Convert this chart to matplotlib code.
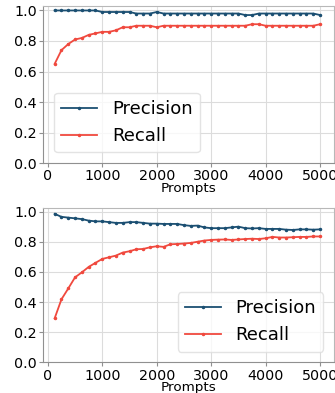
import numpy as np
import matplotlib
matplotlib.use('Agg')
import matplotlib.pyplot as plt

# x: number of prompts, every 125 up to 5000
prompts = list(range(125, 5001, 125))

# upper panel
precision_a = [1.00, 1.00, 1.00, 1.00, 1.00, 1.00, 1.00, 0.99, 0.99, 0.99,
               0.99, 0.99, 0.98, 0.98, 0.98, 0.99, 0.98, 0.98, 0.98, 0.98,
               0.98, 0.98, 0.98, 0.98, 0.98, 0.98, 0.98, 0.98, 0.97, 0.97,
               0.98, 0.98, 0.98, 0.98, 0.98, 0.98, 0.98, 0.98, 0.98, 0.97]
recall_a = [0.65, 0.74, 0.78, 0.81, 0.82, 0.84, 0.85, 0.86, 0.86, 0.87,
            0.89, 0.89, 0.90, 0.90, 0.90, 0.89, 0.90, 0.90, 0.90, 0.90,
            0.90, 0.90, 0.90, 0.90, 0.90, 0.90, 0.90, 0.90, 0.90, 0.91,
            0.91, 0.90, 0.90, 0.90, 0.90, 0.90, 0.90, 0.90, 0.90, 0.91]

# lower panel
precision_b = [0.985, 0.965, 0.960, 0.955, 0.950, 0.940, 0.935, 0.935, 0.930, 0.925,
               0.925, 0.930, 0.930, 0.925, 0.920, 0.920, 0.918, 0.918, 0.918, 0.910,
               0.905, 0.907, 0.895, 0.890, 0.890, 0.890, 0.895, 0.900, 0.890, 0.888,
               0.890, 0.885, 0.885, 0.885, 0.880, 0.878, 0.882, 0.882, 0.880, 0.882]
recall_b = [0.292, 0.418, 0.490, 0.564, 0.597, 0.633, 0.660, 0.686, 0.697, 0.708,
            0.728, 0.737, 0.750, 0.752, 0.763, 0.770, 0.766, 0.783, 0.785, 0.788,
            0.792, 0.800, 0.808, 0.812, 0.814, 0.815, 0.812, 0.815, 0.818, 0.820,
            0.818, 0.823, 0.832, 0.828, 0.828, 0.830, 0.832, 0.832, 0.835, 0.835]

blue = '#1b4f72'
red = '#f0493e'

fig = plt.figure(figsize=(3.35, 3.93), dpi=100)
ax1 = fig.add_axes([0.129, 0.585, 0.868, 0.400])
ax2 = fig.add_axes([0.129, 0.078, 0.868, 0.394])

panels = [
    (ax1, precision_a, recall_a, 'lower left', 1.03),
    (ax2, precision_b, recall_b, 'lower right', 1.027),
]

for ax, prec, rec, loc, ytop in panels:
    ax.plot(prompts, prec, color=blue, marker='.', markersize=3, linewidth=1.3, label='Precision')
    ax.plot(prompts, rec, color=red, marker='.', markersize=3, linewidth=1.3, label='Recall')
    ax.set_xlim(-85, 5255)
    ax.set_ylim(0, ytop)
    ax.set_xticks([0, 1000, 2000, 3000, 4000, 5000])
    ax.set_yticks([0.0, 0.2, 0.4, 0.6, 0.8, 1.0])
    ax.grid(True, color='#dcdcdc', linewidth=0.8)
    ax.set_axisbelow(True)
    for s in ax.spines.values():
        s.set_color('#b8b8b8')
    ax.spines['left'].set_color('#909090')
    ax.spines['bottom'].set_color('#909090')
    ax.tick_params(labelsize=10.3, length=3, width=0.8, color='#909090', pad=1.5)
    ax.set_xlabel('Prompts', fontsize=9.7, labelpad=-1)
    ax.legend(loc=loc, fontsize=13, borderaxespad=0.6, handlelength=2.0,
              framealpha=0.8, edgecolor='#dddddd')

fig.savefig('out.png', dpi=100)
